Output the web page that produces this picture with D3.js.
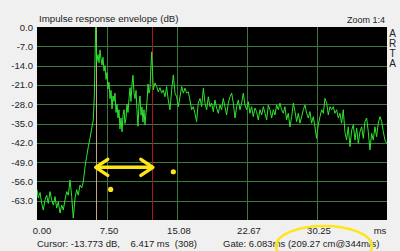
<!DOCTYPE html>
<html>
<head>
<meta charset="utf-8">
<script src="https://cdn.jsdelivr.net/npm/d3@7"></script>
<style>
  html, body { margin: 0; padding: 0; background: #f0f0f0; }
  svg { display: block; font-family: "Liberation Sans", Arial, sans-serif; }
</style>
</head>
<body>
<svg id="chart" width="400" height="251"></svg>
<script>
// envelope samples (time in ms, level in dB)
var envMs = [0.00,0.14,0.33,0.51,0.68,0.87,1.05,1.22,1.41,1.59,1.77,1.95,2.13,2.31,2.49,2.68,2.85,3.03,3.22,3.39,
  3.58,3.76,3.93,4.12,4.30,4.47,4.66,4.84,5.02,5.20,5.38,5.56,5.74,5.93,6.10,6.21,6.28,6.36,6.47,6.61,6.72,
  6.83,6.93,7.04,7.15,7.26,7.37,7.48,7.58,7.69,7.80,7.91,8.02,8.13,8.23,8.34,8.45,8.56,8.67,8.78,8.88,
  8.99,9.10,9.21,9.32,9.43,9.53,9.64,9.75,9.86,9.97,10.08,10.18,10.29,10.40,10.51,10.62,10.73,10.83,10.94,11.05,
  11.16,11.27,11.38,11.48,11.59,11.70,11.81,11.92,12.03,12.13,12.24,12.35,12.43,12.51,12.60,
  12.78,12.96,13.14,13.32,13.50,13.68,13.86,14.04,14.22,14.41,14.59,14.77,14.95,15.13,15.31,15.49,15.67,15.85,16.03,16.21,
  16.39,16.57,16.75,16.93,17.11,17.29,17.47,17.66,17.84,18.02,18.20,18.38,18.56,18.74,18.92,19.10,19.28,19.46,19.64,19.82,
  20.00,20.18,20.36,20.54,20.72,20.91,21.09,21.27,21.45,21.63,21.81,21.99,22.17,22.35,22.53,22.71,22.89,23.07,23.25,23.43,
  23.61,23.79,23.97,24.16,24.34,24.52,24.70,24.88,25.06,25.24,25.42,25.60,25.78,25.96,26.14,26.32,26.50,26.68,26.86,27.04,
  27.22,27.41,27.59,27.77,27.95,28.13,28.31,28.49,28.67,28.85,29.03,29.21,29.39,29.57,29.75,29.93,30.11,30.29,30.47,30.66,
  30.84,31.02,31.20,31.38,31.56,31.74,31.92,32.10,32.28,32.46,32.64,32.82,33.00,33.18,33.36,33.54,33.72,33.91,34.09,34.27,
  34.45,34.63,34.81,34.99,35.17,35.35,35.53,35.71,35.89,36.07,36.25,36.43,36.61,36.79,36.97,37.16,37.34,37.52,37.70,37.88];
var envDb = [-59,-62,-60,-64,-66.4,-62.7,-61,-64,-59.7,-62.7,-64.6,-61.5,-65.7,-63.4,-67.5,-64.6,-66.4,-62.7,-59.7,-61,
  -55.5,-61.5,-69.3,-62,-59,-61,-57.3,-58.4,-56.1,-50.7,-47,-43.4,-40.4,-36.7,-33.7,-25,-12,0,-12.7,-10,-13,
  -8.3,-11.5,-13.8,-11,-16,-14,-19,-16.5,-22.5,-20,-26,-23,-29.7,-25,-27,-24,-31,-28,-33,-30,
  -37,-33,-38,-32,-30,-35,-33,-28,-31,-26,-22,-27,-21,-17.5,-24,-26,-23,-30,-36,-28,
  -25,-32,-29,-34.5,-30,-35.5,-31,-27,-20.7,-24,-22.5,-14,-9,-16,-22.8,
  -20.3,-21.6,-23.5,-22,-24,-22.8,-25.3,-21.6,-26.5,-30,-22.8,-17.4,-24,-25.3,-28.9,-25.3,-21.6,-24,-22.2,-24,
  -23.5,-26.5,-30,-28.9,-31.3,-34.3,-27.6,-25.9,-28.9,-22.2,-27.6,-30,-25.3,-28.9,-27.6,-30.7,-26.5,-29.4,-31.3,-28.3,
  -30,-25.9,-28.9,-31.9,-27.6,-25.3,-24,-27.6,-33,-28.9,-26.5,-30,-27.6,-24,-28.3,-30,-27.1,-31.3,-28.9,-32.5,
  -29.4,-30.7,-33.7,-30,-31.9,-28.9,-31.3,-33.7,-28.3,-30,-33,-30,-31.9,-28.3,-30,-27.6,-30,-31.3,-28.9,-33.7,
  -31.3,-36.2,-32.5,-27.6,-30.7,-34.3,-31.3,-34.9,-32.5,-30,-28.3,-31.3,-33,-30.7,-34.9,-32.5,-36.2,-40.4,-35.5,-32.5,
  -30,-31.3,-25.9,-27.6,-31.9,-28.9,-30,-28.9,-31.3,-30,-33,-31.3,-34.9,-30,-38,-41,-36.2,-43.4,-37.4,-35.5,
  -41,-36.7,-42.2,-38,-36.2,-40.4,-34.3,-33,-38,-44.6,-38.6,-41,-36.2,-39.8,-34.9,-32.5,-34.3,-38,-41,-42.2];

var yTicks = [0, -7, -14, -21, -28, -35, -42, -49, -56, -63];
var xTicks = [0, 7.583, 15.167, 22.75, 30.333];
var xTickLabels = ["0.00", "7.50", "15.08", "22.67", "30.25"];

var cursorMs = 6.417, gateEndMs = 12.5;
var markerDots = [[7.98, -58.9], [14.77, -52.5]];

var svg = d3.select("#chart"),
    plotL = 37, plotR = 387, plotT = 27, plotB = 220;

var x = d3.scaleLinear().domain([0, 37.917]).range([plotL, plotR]);
var y = d3.scaleLinear().domain([0, -70]).range([plotT, plotB]);

// plot background
svg.append("rect")
    .attr("x", plotL).attr("y", plotT)
    .attr("width", plotR - plotL).attr("height", plotB - plotT)
    .attr("fill", "#000");

var grid = svg.append("g").attr("stroke", "#3c7a3c").attr("stroke-width", 1);
grid.selectAll(".h").data(yTicks.slice(1)).enter().append("line")
    .attr("x1", plotL).attr("x2", plotR)
    .attr("y1", function (d) { return Math.round(y(d)) + 0.5; })
    .attr("y2", function (d) { return Math.round(y(d)) + 0.5; });
grid.selectAll(".v").data(xTicks.slice(1)).enter().append("line")
    .attr("y1", plotT).attr("y2", plotB)
    .attr("x1", function (d) { return Math.round(x(d)) + 0.5; })
    .attr("x2", function (d) { return Math.round(x(d)) + 0.5; });

// cursor and gate end markers
svg.append("line")
    .attr("x1", Math.round(x(cursorMs)) + 0.5).attr("x2", Math.round(x(cursorMs)) + 0.5)
    .attr("y1", plotT).attr("y2", plotB)
    .attr("stroke", "#c8a878");
svg.append("line")
    .attr("x1", Math.round(x(gateEndMs)) + 0.5).attr("x2", Math.round(x(gateEndMs)) + 0.5)
    .attr("y1", plotT).attr("y2", plotB)
    .attr("stroke", "#a81818");

// envelope curve
var line = d3.line()
    .x(function (d, i) { return x(envMs[i]); })
    .y(function (d) { return y(d); });

svg.append("clipPath").attr("id", "clip").append("rect")
    .attr("x", plotL).attr("y", plotT - 1).attr("width", plotR - plotL).attr("height", plotB - plotT + 1);

svg.append("path")
    .datum(envDb)
    .attr("clip-path", "url(#clip)")
    .attr("d", line)
    .attr("fill", "none")
    .attr("stroke", "#2fe62f")
    .attr("stroke-width", 1);

// y labels
svg.selectAll(".yl").data(yTicks).enter().append("text")
    .attr("x", 33).attr("y", function (d) { return y(d) + 3.5; })
    .attr("text-anchor", "end")
    .attr("font-size", 9.5)
    .attr("fill", "#222")
    .text(function (d) { return d.toFixed(1); });

// x labels
svg.selectAll(".xl").data(xTicks).enter().append("text")
    .attr("x", function (d, i) { return x(d) + (i === 0 ? 5 : 2); })
    .attr("y", 234)
    .attr("text-anchor", "middle")
    .attr("font-size", 9.5)
    .attr("fill", "#222")
    .text(function (d, i) { return xTickLabels[i]; });
svg.append("text").attr("x", 380).attr("y", 234).attr("text-anchor", "middle")
    .attr("font-size", 9.5).attr("fill", "#222").text("ms");

// titles
svg.append("text").attr("x", 39).attr("y", 22).attr("font-size", 9.7).attr("fill", "#222")
    .text("Impulse response envelope (dB)");
svg.append("text").attr("x", 385).attr("y", 23).attr("text-anchor", "end")
    .attr("font-size", 9).attr("fill", "#222").text("Zoom 1:4");
svg.selectAll(".arta").data(["A", "R", "T", "A"]).enter().append("text")
    .attr("x", 392.5).attr("y", function (d, i) { return 36.5 + i * 10; })
    .attr("text-anchor", "middle").attr("font-size", 10).attr("fill", "#222")
    .text(function (d) { return d; });

svg.append("text").attr("x", 37).attr("y", 247).attr("font-size", 9.5).attr("fill", "#222")
    .text("Cursor: -13.773 dB,\u00a0\u00a0\u00a0 6.417 ms\u00a0 (308)");
svg.append("text").attr("x", 223).attr("y", 247).attr("font-size", 9.5).attr("fill", "#222")
    .text("Gate: 6.083ms (209.27 cm@344m/s)");

// yellow annotations
var yel = "#ffe61a";
var ay = y(-50.9), ax1 = x(cursorMs) - 0.5, ax2 = x(gateEndMs) + 0.5;
var ann = svg.append("g").attr("stroke", yel).attr("stroke-width", 3.5)
    .attr("fill", "none").attr("stroke-linecap", "round").attr("stroke-linejoin", "round");
ann.append("line").attr("x1", ax1 + 1).attr("x2", ax2 - 1).attr("y1", ay).attr("y2", ay);
ann.append("polyline").attr("points", [[ax1 + 12, ay - 8], [ax1, ay], [ax1 + 12, ay + 8]].join(" "));
ann.append("polyline").attr("points", [[ax2 - 12, ay - 8], [ax2, ay], [ax2 - 12, ay + 8]].join(" "));

svg.selectAll(".dot").data(markerDots).enter().append("circle")
    .attr("cx", function (d) { return x(d[0]); })
    .attr("cy", function (d) { return y(d[1]); })
    .attr("r", 2.6).attr("fill", yel);

svg.append("ellipse")
    .attr("cx", 324).attr("cy", 246).attr("rx", 48).attr("ry", 20)
    .attr("fill", "none").attr("stroke", yel).attr("stroke-width", 2.5);
</script>
</body>
</html>
